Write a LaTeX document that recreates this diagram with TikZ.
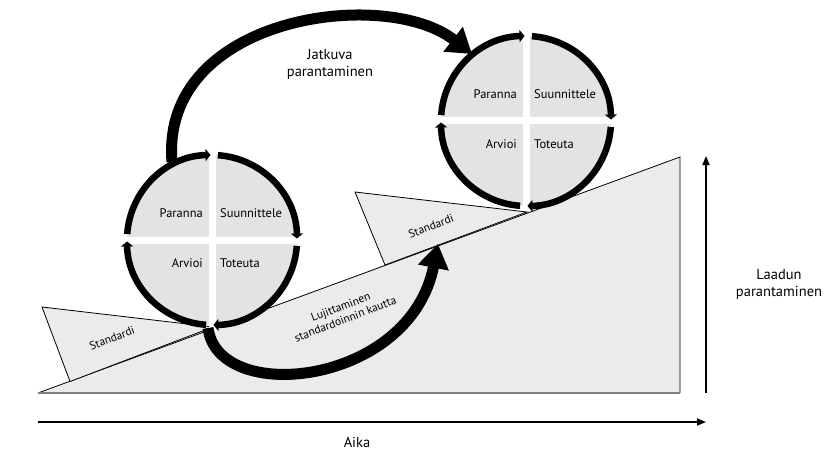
\documentclass[tikz,border=0pt]{standalone}
\usepackage{fontspec}
\setmainfont{PT Sans}
\usetikzlibrary{arrows.meta,calc}
\definecolor{lg}{HTML}{EBEBEB}
\definecolor{cg}{HTML}{E3E3E3}
\tikzset{
  wedgeshape/.style={draw=black,line width=0.8pt,fill=lg},
  bigarrow/.style={line width=11pt,-{Triangle[length=24pt 0 0,width=30pt 0 0]}},
  cyc/.style={line width=6.5pt,-{Triangle[length=5pt 0 0,width=12pt 0 0]}},
  axis/.style={line width=1.6pt,-{Triangle[length=9pt 0 0,width=7pt 0 0]}},
  lbl/.style={font=\fontsize{12.5}{14}\selectfont,inner sep=1pt},
  big/.style={font=\fontsize{14.5}{17}\selectfont,inner sep=1pt},
  small/.style={font=\fontsize{11.5}{13}\selectfont,inner sep=1pt}
}
\newcommand{\pdca}[2]{%
  \coordinate (#2) at #1;
  \fill[cg] (#2) circle (85pt);
  \draw[white,line width=7pt] ($(#2)+(-90pt,0)$) -- ($(#2)+(90pt,0)$);
  \draw[white,line width=7pt] ($(#2)+(0,-90pt)$) -- ($(#2)+(0,90pt)$);
  \draw[cyc] ($(#2)+(176:85pt)$) arc (176:91:85pt);
  \draw[cyc] ($(#2)+(86:85pt)$) arc (86:1:85pt);
  \draw[cyc] ($(#2)+(-4:85pt)$) arc (-4:-89:85pt);
  \draw[cyc] ($(#2)+(-94:85pt)$) arc (-94:-179:85pt);
  \node[lbl,anchor=east] (#2p) at ($(#2)+(-8pt,27pt)$) {Paranna};
  \node[lbl,anchor=west] (#2s) at ($(#2)+(7pt,27pt)$) {Suunnittele};
  \node[lbl,anchor=east] (#2a) at ($(#2)+(-8pt,-23pt)$) {Arvioi};
  \node[lbl,anchor=west] (#2t) at ($(#2)+(7pt,-23pt)$) {Toteuta};
}
\begin{document}
\begin{tikzpicture}[x=1pt,y=1pt]
\useasboundingbox (0,0) rectangle (840,456);
% ramp
\fill[lg] (38,63) -- (680,63) -- (680,299) -- cycle;
\draw[line width=0.8pt] (38,63) -- (680,299) -- (680,63);
\draw[gray,line width=1.2pt] (38,63) -- (680,63);
% wedges
\draw[wedgeshape] (42,149) -- (213,129) -- (70,74.5) -- cycle;
\draw[wedgeshape] (355,264) -- (527,244) -- (385,191) -- cycle;
\node[small,rotate=21] (std1) at (112,118) {Standardi};
\node[small,rotate=21] (std2) at (431,230) {Standardi};
% circles
\pdca{(212,216)}{c}
\pdca{(526,335)}{d}
% big arrows
\coordinate (j0) at (172,294);
\coordinate (j1) at (472,402);
\draw[bigarrow] (j0) .. controls (160,440) and (385,470) .. (j1);
\coordinate (l0) at (208,128);
\coordinate (l1) at (438,212);
\draw[bigarrow] (l0) .. controls (218,50) and (410,70) .. (l1);
\node[big,align=center] (jat) at (330,392) {Jatkuva\\parantaminen};
\node[small,align=center,rotate=21] (luj) at (343,143) {Lujittaminen\\standardoinnin kautta};
% axes
\coordinate (v0) at (706,63); \coordinate (v1) at (706,300);
\draw[axis] (v0) -- (v1);
\coordinate (h0) at (38,34); \coordinate (h1) at (706,34);
\draw[axis] (h0) -- (h1);
\node[big,align=center] (laa) at (779,172) {Laadun\\parantaminen};
\node[big] (aika) at (357,14) {Aika};
\end{tikzpicture}
\end{document}
